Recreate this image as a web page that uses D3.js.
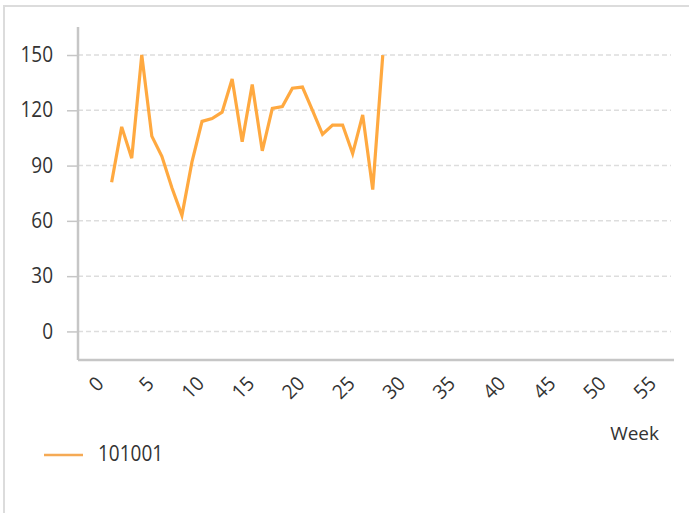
<!DOCTYPE html>
<html>
<head>
<meta charset="utf-8">
<script src="https://cdn.jsdelivr.net/npm/d3@7"></script>
<style>
  html, body { margin: 0; padding: 0; background: #fff; }
  svg text { font-family: "Open Sans", sans-serif; fill: #333; }
</style>
</head>
<body>
<svg id="chart" width="689" height="513"></svg>
<script>
const seriesName = "101001";
const weeks = [1,2,3,4,5,6,7,8,9,10,11,12,13,14,15,16,17,18,19,20,21,22,23,24,25,26,27,28];
const values = [81,111,94,150,106,95,78,63,92,114,115.5,119,137,103,134,98,121,122,132,132.6,120,107,112,112,96.5,117.5,77,150];
const yTicks = [0,30,60,90,120,150];
const xTicks = [0,5,10,15,20,25,30,35,40,45,50,55];
const xTitle = "Week";

const svg = d3.select("#chart");
const lineColor = "#ffa940";

// outer frame
svg.append("rect").attr("x", 4).attr("y", 6).attr("width", 720).attr("height", 600)
  .attr("fill", "none").attr("stroke", "#dcdcdc").attr("stroke-width", 2);

const x = d3.scaleLinear().domain([-2.35, 57]).range([78, 674]);
const y = d3.scaleLinear().domain([-15.5, 165.2]).range([360, 27]);

// grid
const grid = svg.append("g");
grid.selectAll("line").data(yTicks).join("line")
  .attr("x1", 78).attr("x2", 671)
  .attr("y1", d => y(d)).attr("y2", d => y(d))
  .attr("stroke", "#dddddd").attr("stroke-width", 1.5)
  .attr("stroke-dasharray", "5,3");

// y axis
const yAxis = svg.append("g").attr("transform", "translate(78,0)")
  .call(d3.axisLeft(y).tickValues(yTicks).tickSize(11).tickPadding(14));
yAxis.select(".domain").attr("stroke", "#c6c6c6").attr("stroke-width", 2.5)
  .attr("d", `M0,27V360`);
yAxis.selectAll(".tick line").attr("stroke", "#c6c6c6").attr("stroke-width", 1.5);
yAxis.selectAll(".tick text").attr("font-size", 19).attr("fill", "#333")
  .attr("font-family", "'Open Sans', sans-serif")
  .attr("transform", "scale(1,1.1)");

// x axis
const xAxis = svg.append("g").attr("transform", "translate(0,360)")
  .call(d3.axisBottom(x).tickValues(xTicks).tickSize(0).tickPadding(0));
xAxis.select(".domain").attr("stroke", "#c6c6c6").attr("stroke-width", 2.5)
  .attr("d", `M78,0H674`);
xAxis.selectAll(".tick text")
  .attr("font-size", 19).attr("fill", "#333")
  .attr("font-family", "'Open Sans', sans-serif")
  .attr("text-anchor", "end")
  .attr("y", 0).attr("dy", "0.35em")
  .attr("transform", "translate(-2,20) rotate(-45) scale(1,1.05)");

// axis title
svg.append("text").attr("x", 659).attr("y", 433).attr("dy", "0.35em")
  .attr("text-anchor", "end").attr("font-size", 19).text(xTitle);

// line
const line = d3.line().x((d, i) => x(weeks[i])).y(d => y(d));
svg.append("path").datum(values).attr("d", line)
  .attr("fill", "none").attr("stroke", lineColor).attr("stroke-width", 3.2)
  .attr("stroke-linejoin", "miter");

// legend
svg.append("line").attr("x1", 44).attr("x2", 83).attr("y1", 455).attr("y2", 455)
  .attr("stroke", "#f5aa55").attr("stroke-width", 2.5);
svg.append("text").attr("transform", "translate(98,454) scale(1,1.1)").attr("dy", "0.35em")
  .attr("font-size", 19).text(seriesName);
</script>
</body>
</html>
